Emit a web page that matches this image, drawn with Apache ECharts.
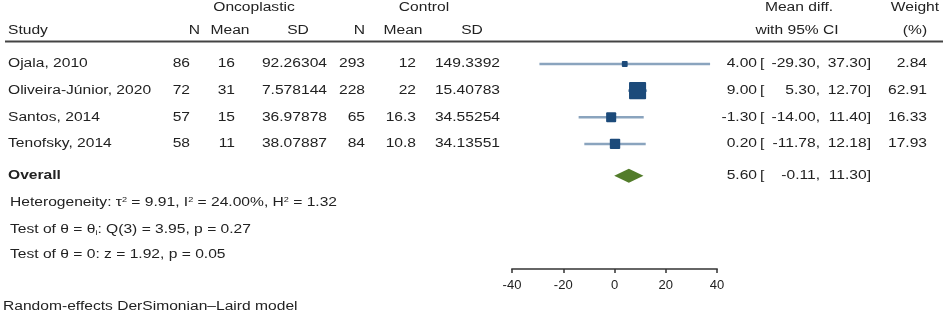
<!DOCTYPE html>
<html>
<head>
<meta charset="utf-8">
<script src="https://cdn.jsdelivr.net/npm/echarts@6/dist/echarts.min.js"></script>
<style>
  html, body { margin: 0; padding: 0; background: #fff; }
  #chart { width: 948px; height: 320px; }
</style>
</head>
<body>
<div id="chart"></div>
<script>
// study table
const studies = ['Ojala, 2010', 'Oliveira-Júnior, 2020', 'Santos, 2014', 'Tenofsky, 2014']
const onoN = [86, 72, 57, 58]
const onoMean = [16, 31, 15, 11]
const onoSD = ['92.26304', '7.578144', '36.97878', '38.07887']
const ctlN = [293, 228, 65, 84]
const ctlMean = [12, 22, 16.3, 10.8]
const ctlSD = ['149.3392', '15.40783', '34.55254', '34.13551']
const diff = [4.00, 9.00, -1.30, 0.20]
const lower = [-29.30, 5.30, -14.00, -11.78]
const upper = [37.30, 12.70, 11.40, 12.18]
const weight = [2.84, 62.91, 16.33, 17.93]
const overall = [5.60, -0.11, 11.30]
const xTicks = [-40, -20, 0, 20, 40]

const OVERALL_ROW = 4.2
const FONT = 'Liberation Sans'
const TXT = '#222'
const SX = 1.3

const chart = echarts.init(document.getElementById('chart'))

chart.setOption({
    animation: false,
    grid: { left: 512, right: 231, top: 50.7, bottom: 51 },
    xAxis: {
        type: 'value',
        min: xTicks[0],
        max: xTicks[xTicks.length - 1],
        interval: 20,
        axisLine: { show: true, onZero: false, lineStyle: { color: '#666', width: 2 } },
        axisTick: { show: true, length: 4, lineStyle: { color: '#333', width: 1.5 } },
        axisLabel: { color: TXT, fontFamily: FONT, fontSize: 13, margin: 10 },
        splitLine: { show: false }
    },
    yAxis: {
        type: 'value',
        inverse: true,
        min: -0.5,
        max: 7.7,
        show: false
    },
    series: [
        {
            type: 'custom',
            data: studies.map((s, i) => [diff[i], lower[i], upper[i], i, weight[i]]),
            encode: { x: [0, 1, 2], y: 3 },
            renderItem: (params, api) => {
                const row = api.value(3)
                const c = api.coord([api.value(0), row])
                const a = api.coord([api.value(1), row])
                const b = api.coord([api.value(2), row])
                const sz = 2.8 + 1.8 * Math.sqrt(api.value(4))
                return {
                    type: 'group',
                    children: [
                        {
                            type: 'line',
                            shape: { x1: a[0], y1: a[1], x2: b[0], y2: b[1] },
                            style: { stroke: '#8aa4be', lineWidth: 2.5 }
                        },
                        {
                            type: 'rect',
                            shape: { x: c[0] - sz / 2, y: c[1] - sz / 2, width: sz, height: sz, r: 1 },
                            style: { fill: '#1c4a7a' }
                        }
                    ]
                }
            }
        },
        {
            type: 'custom',
            data: [[overall[0], overall[1], overall[2], OVERALL_ROW]],
            encode: { x: [0, 1, 2], y: 3 },
            renderItem: (params, api) => {
                const row = api.value(3)
                const c = api.coord([api.value(0), row])
                const a = api.coord([api.value(1), row])
                const b = api.coord([api.value(2), row])
                const h = 7
                return {
                    type: 'polygon',
                    shape: { points: [[a[0], a[1]], [c[0], c[1] - h], [b[0], b[1]], [c[0], c[1] + h]] },
                    style: { fill: '#527c2a' }
                }
            }
        }
    ]
})

// table text, rows aligned to the y axis
const rowY = r => chart.convertToPixel({ yAxisIndex: 0 }, r)
const fmt = v => v.toFixed(2)

function txt(x, y, text, align, bold) {
    return {
        type: 'text', x: x, y: y, scaleX: SX,
        style: {
            text: text, fill: TXT, font: (bold ? 'bold ' : '') + '12px "' + FONT + '"',
            textAlign: align || 'left', textVerticalAlign: 'middle'
        }
    }
}

const g = []
// headers
g.push(txt(254, 8, 'Oncoplastic', 'center'))
g.push(txt(424, 8, 'Control', 'center'))
g.push(txt(799, 8, 'Mean diff.', 'center'))
g.push(txt(915, 8, 'Weight', 'center'))
g.push(txt(8, 31, 'Study', 'left'))
g.push(txt(200, 31, 'N', 'right'))
g.push(txt(230, 31, 'Mean', 'center'))
g.push(txt(298, 31, 'SD', 'center'))
g.push(txt(365, 31, 'N', 'right'))
g.push(txt(403, 31, 'Mean', 'center'))
g.push(txt(472, 31, 'SD', 'center'))
g.push(txt(797, 31, 'with 95% CI', 'center'))
g.push(txt(915, 31, '(%)', 'center'))
g.push({
    type: 'line',
    shape: { x1: 5, y1: 41.5, x2: 943, y2: 41.5 },
    style: { stroke: '#444', lineWidth: 2 }
})

function ciText(y, est, lo, hi) {
    g.push(txt(757, y, fmt(est), 'right'))
    g.push(txt(760, y, '[', 'left'))
    g.push(txt(820, y, fmt(lo) + ',', 'right'))
    g.push(txt(871, y, fmt(hi) + ']', 'right'))
}

studies.forEach((s, i) => {
    const y = rowY(i)
    g.push(txt(8, y, s, 'left'))
    g.push(txt(190, y, String(onoN[i]), 'right'))
    g.push(txt(235, y, String(onoMean[i]), 'right'))
    g.push(txt(327, y, onoSD[i], 'right'))
    g.push(txt(365, y, String(ctlN[i]), 'right'))
    g.push(txt(416, y, String(ctlMean[i]), 'right'))
    g.push(txt(500, y, ctlSD[i], 'right'))
    ciText(y, diff[i], lower[i], upper[i])
    g.push(txt(927, y, fmt(weight[i]), 'right'))
})

const yo = rowY(OVERALL_ROW)
g.push(txt(8, yo, 'Overall', 'left', true))
ciText(yo, overall[0], overall[1], overall[2])

function rich(x, y, text) {
    return {
        type: 'text', x: x, y: y, scaleX: SX,
        style: {
            text: text, fill: TXT, font: '12px "' + FONT + '"',
            textAlign: 'left', textVerticalAlign: 'middle',
            rich: {
                a: { fontSize: 12, fontFamily: FONT, fill: TXT },
                sup: { fontSize: 7, fontFamily: FONT, fill: TXT, verticalAlign: 'top', padding: [0, 0, 6, 0] },
                sub: { fontSize: 7, fontFamily: FONT, fill: TXT, padding: [6, 0, 0, 0] }
            }
        }
    }
}

g.push(rich(10, 203, '{a|Heterogeneity: τ}{sup|2}{a| = 9.91, I}{sup|2}{a| = 24.00%, H}{sup|2}{a| = 1.32}'))
g.push(rich(10, 230, '{a|Test of θ = θ}{sub|i}{a|: Q(3) = 3.95, p = 0.27}'))
g.push(txt(10, 255, 'Test of θ = 0: z = 1.92, p = 0.05', 'left'))
g.push(txt(3, 307, 'Random-effects DerSimonian–Laird model', 'left'))

chart.setOption({ graphic: g })
</script>
</body>
</html>
